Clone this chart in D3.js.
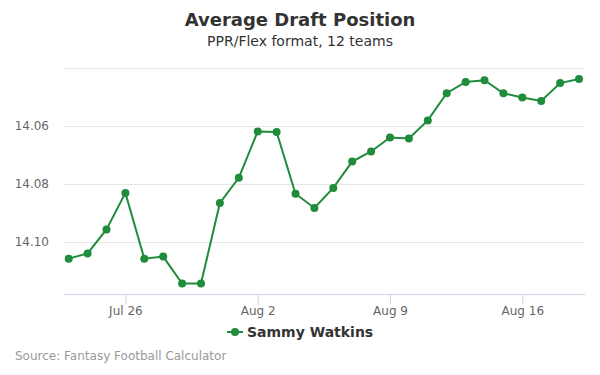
<!DOCTYPE html>
<html>
<head>
<meta charset="utf-8">
<script src="https://cdn.jsdelivr.net/npm/d3@7"></script>
<style>
  body { margin: 0; background: #fff; }
  svg { font-family: "DejaVu Sans", sans-serif; }
</style>
</head>
<body>
<div id="chart"></div>
<script>
// ADP line chart: Sammy Watkins, PPR/Flex 12 teams

const dates = [
  "2018-07-23", "2018-07-24", "2018-07-25", "2018-07-26", "2018-07-27", "2018-07-28", "2018-07-29",
  "2018-07-30", "2018-07-31", "2018-08-01", "2018-08-02", "2018-08-03", "2018-08-04", "2018-08-05",
  "2018-08-06", "2018-08-07", "2018-08-08", "2018-08-09", "2018-08-10", "2018-08-11", "2018-08-12",
  "2018-08-13", "2018-08-14", "2018-08-15", "2018-08-16", "2018-08-17", "2018-08-18", "2018-08-19"
];
const adp = [
  14.1058, 14.1040, 14.0957, 14.0831, 14.1058, 14.1051, 14.1144,
  14.1144, 14.0866, 14.0779, 14.0619, 14.0621, 14.0834, 14.0883,
  14.0814, 14.0723, 14.0688, 14.0640, 14.0643, 14.0581, 14.0487,
  14.0448, 14.0442, 14.0487, 14.0502, 14.0514, 14.0452, 14.0438
];
const yTicks = [14.04, 14.06, 14.08, 14.10];
const yLabelTicks = [14.06, 14.08, 14.10];
const xTicks = ["2018-07-26", "2018-08-02", "2018-08-09", "2018-08-16"];
const seriesName = "Sammy Watkins";

const width = 600, height = 375;
const plot = { left: 64, right: 585, top: 68, bottom: 294 };
const color = "#1e8c3b";
const parse = d3.timeParse("%Y-%m-%d");

const data = dates.map((d, i) => ({ date: parse(d), v: adp[i] }));

const svg = d3.select("#chart").append("svg")
  .attr("width", width)
  .attr("height", height);

const x = d3.scaleTime()
  .domain([parse(dates[0]), parse(dates[dates.length - 1])])
  .range([68.7, 579]);

// reversed axis: lower ADP on top
const y = d3.scaleLinear()
  .domain([14.04, 14.118])
  .range([plot.top, plot.bottom]);

// gridlines
svg.append("g")
  .selectAll("line")
  .data(yTicks)
  .join("line")
  .attr("x1", plot.left)
  .attr("x2", plot.right)
  .attr("y1", d => Math.round(y(d)) + 0.5)
  .attr("y2", d => Math.round(y(d)) + 0.5)
  .attr("stroke", "#e6e6e6");

// y labels
svg.append("g")
  .selectAll("text")
  .data(yLabelTicks)
  .join("text")
  .attr("x", 49)
  .attr("y", d => y(d) + 4)
  .attr("text-anchor", "end")
  .style("font-size", "12px")
  .style("fill", "#666")
  .text(d => d.toFixed(2));

// x axis
const xAxis = svg.append("g")
  .attr("transform", `translate(0,${plot.bottom + 0.5})`)
  .call(d3.axisBottom(x)
    .tickValues(xTicks.map(parse))
    .tickFormat(d3.timeFormat("%b %-d"))
    .tickSize(10)
    .tickSizeOuter(0));
xAxis.select(".domain")
  .attr("d", `M${plot.left},0H${plot.right}`)
  .attr("stroke", "#ccd6eb");
xAxis.selectAll(".tick line").attr("stroke", "#ccd6eb");
xAxis.selectAll(".tick text")
  .attr("y", 12)
  .style("font-family", "DejaVu Sans, sans-serif")
  .style("font-size", "12px")
  .style("fill", "#666");

// line
const line = d3.line()
  .x(d => x(d.date))
  .y(d => y(d.v));

svg.append("path")
  .datum(data)
  .attr("d", line)
  .attr("fill", "none")
  .attr("stroke", color)
  .attr("stroke-width", 2);

svg.append("g")
  .selectAll("circle")
  .data(data)
  .join("circle")
  .attr("cx", d => x(d.date))
  .attr("cy", d => y(d.v))
  .attr("r", 4)
  .attr("fill", color);

// title
svg.append("text")
  .attr("x", width / 2)
  .attr("y", 26)
  .attr("text-anchor", "middle")
  .style("font-size", "18px")
  .style("font-weight", "bold")
  .style("fill", "#333")
  .text("Average Draft Position");

svg.append("text")
  .attr("x", width / 2)
  .attr("y", 46)
  .attr("text-anchor", "middle")
  .style("font-size", "14px")
  .style("fill", "#333")
  .text("PPR/Flex format, 12 teams");

// legend
const lg = svg.append("g").attr("transform", "translate(227,332)");
lg.append("line")
  .attr("x1", 0).attr("x2", 16)
  .attr("stroke", color).attr("stroke-width", 2);
lg.append("circle")
  .attr("cx", 8).attr("r", 4).attr("fill", color);
lg.append("text")
  .attr("x", 20)
  .attr("y", 5)
  .style("font-size", "14px")
  .style("font-weight", "bold")
  .style("fill", "#333")
  .text(seriesName);

// credits
svg.append("text")
  .attr("x", 15)
  .attr("y", 360)
  .style("font-size", "12px")
  .style("fill", "#999")
  .text("Source: Fantasy Football Calculator");
</script>
</body>
</html>
